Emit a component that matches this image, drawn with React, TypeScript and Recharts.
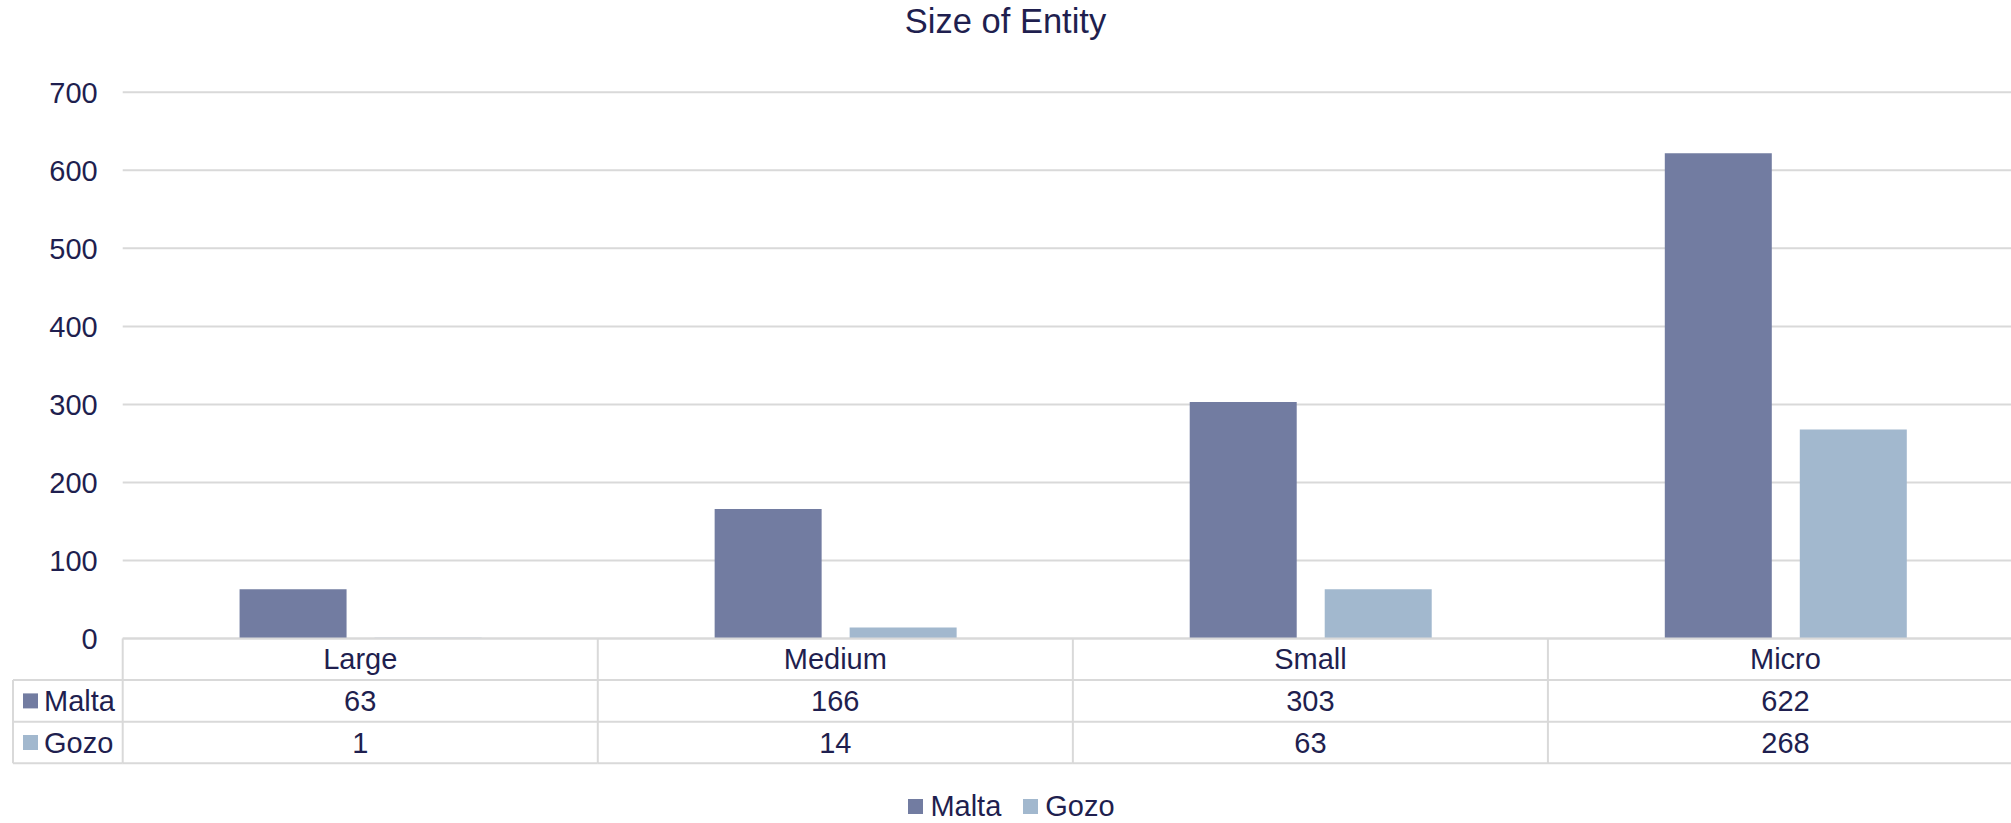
import React from 'react';
import { BarChart, Bar, XAxis, YAxis, CartesianGrid, Legend } from 'recharts';

const title = 'Size of Entity';
const categories = ['Large', 'Medium', 'Small', 'Micro'];
const seriesNames = ['Malta', 'Gozo'];
const maltaValues = [63, 166, 303, 622];
const gozoValues = [1, 14, 63, 268];
const yTicks = [0, 100, 200, 300, 400, 500, 600, 700];

const MALTA_COLOR = '#727CA1';
const GOZO_COLOR = '#A2B8CE';
const TEXT_COLOR = '#1F1F4F';
const LINE_COLOR = '#D9D9D9';
const FONT = '"Liberation Sans", Arial, sans-serif';
const FS = 29;

const seriesColors = [MALTA_COLOR, GOZO_COLOR];
const seriesValues = [maltaValues, gozoValues];

const data = categories.map((c, i) => ({
  category: c,
  Malta: maltaValues[i],
  Gozo: gozoValues[i],
}));

const CHART_W = 2023;
const CHART_H = 823;
const PLOT_LEFT = 122.7;
const PLOT_TOP = 92.3;
const PLOT_BOTTOM = 638.5;
const ROW_H = 41.6;
const HEADER_LEFT = 13;

function TableTick(props: any) {
  const { x, y, payload, width } = props;
  const idx: number = payload && typeof payload.index === 'number' ? payload.index : props.index;
  const half: number =
    payload && payload.offset > 0 ? payload.offset : width / categories.length / 2;
  const left = x - half;
  const right = x + half;
  const rowLines = [y + ROW_H, y + 2 * ROW_H, y + 3 * ROW_H];
  const textProps = {
    fill: TEXT_COLOR,
    fontSize: FS,
    fontFamily: FONT,
    textAnchor: 'middle' as const,
    dy: '0.35em',
  };
  return (
    <g>
      <line x1={left} x2={left} y1={y} y2={y + 3 * ROW_H} stroke={LINE_COLOR} strokeWidth={2} />
      {idx === categories.length - 1 && (
        <line x1={right} x2={right} y1={y} y2={y + 3 * ROW_H} stroke={LINE_COLOR} strokeWidth={2} />
      )}
      {rowLines.map((ry, k) => (
        <line key={k} x1={left} x2={right} y1={ry} y2={ry} stroke={LINE_COLOR} strokeWidth={2} />
      ))}
      <text x={x} y={y + ROW_H / 2} {...textProps}>
        {payload.value}
      </text>
      {seriesValues.map((vals, s) => (
        <text key={s} x={x} y={y + ROW_H * (s + 1.5)} {...textProps}>
          {vals[idx]}
        </text>
      ))}
      {idx === 0 && (
        <g>
          <line x1={HEADER_LEFT} x2={HEADER_LEFT} y1={y + ROW_H} y2={y + 3 * ROW_H} stroke={LINE_COLOR} strokeWidth={2} />
          {rowLines.map((ry, k) => (
            <line key={k} x1={HEADER_LEFT} x2={left} y1={ry} y2={ry} stroke={LINE_COLOR} strokeWidth={2} />
          ))}
          {seriesNames.map((name, s) => {
            const cy = y + ROW_H * (s + 1.5);
            return (
              <g key={name}>
                <rect x={HEADER_LEFT + 10} y={cy - 7.5} width={15} height={15} fill={seriesColors[s]} />
                <text
                  x={HEADER_LEFT + 31}
                  y={cy}
                  dy="0.35em"
                  fill={TEXT_COLOR}
                  fontSize={FS}
                  fontFamily={FONT}
                  textAnchor="start"
                >
                  {name}
                </text>
              </g>
            );
          })}
        </g>
      )}
    </g>
  );
}

function renderLegend(props: any) {
  const payload = [...(props.payload || [])].sort(
    (a: any, b: any) => seriesNames.indexOf(a.value) - seriesNames.indexOf(b.value)
  );
  return (
    <div
      style={{
        display: 'flex',
        justifyContent: 'center',
        alignItems: 'center',
        fontFamily: FONT,
        fontSize: FS,
        color: TEXT_COLOR,
        lineHeight: '26px',
        height: 26,
      }}
    >
      {payload.map((e: any, i: number) => (
        <div
          key={i}
          style={{ display: 'flex', alignItems: 'center', marginLeft: i ? 22 : 0 }}
        >
          <span
            style={{
              width: 15,
              height: 15,
              background: e.color,
              display: 'inline-block',
              marginRight: 7,
            }}
          />
          <span>{e.value}</span>
        </div>
      ))}
    </div>
  );
}

export default function App() {
  return (
    <div
      style={{
        position: 'absolute',
        left: 0,
        top: 0,
        width: 2011,
        height: 823,
        overflow: 'hidden',
        background: '#fff',
      }}
    >
      <svg
        width={2011}
        height={60}
        style={{ position: 'absolute', left: 0, top: 0, zIndex: 2 }}
      >
        <text
          x={1005.5}
          y={33}
          textAnchor="middle"
          fill={TEXT_COLOR}
          fontSize={34.5}
          fontFamily={FONT}
        >
          {title}
        </text>
      </svg>
      <BarChart
        width={CHART_W}
        height={CHART_H}
        data={data}
        margin={{ top: PLOT_TOP, right: 0, bottom: 0, left: 0 }}
        barCategoryGap="24.6%"
        barGap={28}
        style={{ fontFamily: FONT }}
      >
        <CartesianGrid
          horizontal
          vertical={false}
          stroke={LINE_COLOR}
          strokeWidth={2}
        />
        <XAxis
          dataKey="category"
          axisLine={{ stroke: LINE_COLOR, strokeWidth: 2 }}
          tickLine={false}
          tickSize={0}
          tickMargin={0}
          interval={0}
          height={CHART_H - PLOT_BOTTOM}
          tick={<TableTick />}
        />
        <YAxis
          domain={[0, 700]}
          ticks={yTicks}
          interval={0}
          width={PLOT_LEFT}
          axisLine={false}
          tickLine={false}
          tickSize={0}
          tickMargin={25}
          tick={{ fill: TEXT_COLOR, fontSize: FS, fontFamily: FONT }}
        />
        <Legend
          layout="horizontal"
          verticalAlign="middle"
          align="center"
          wrapperStyle={{ top: 793, left: 0 }}
          content={renderLegend}
        />
        {seriesNames.map((name, s) => (
          <Bar
            key={name}
            dataKey={name}
            name={name}
            fill={seriesColors[s]}
            isAnimationActive={false}
          />
        ))}
      </BarChart>
    </div>
  );
}
